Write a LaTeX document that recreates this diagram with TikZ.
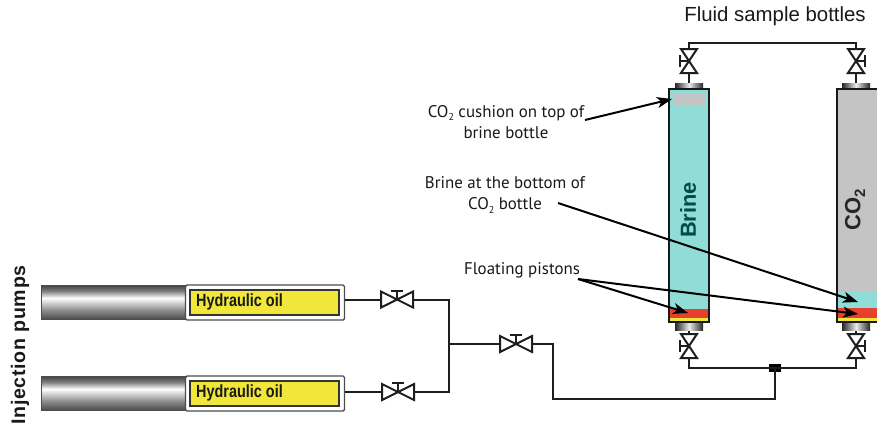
\documentclass[tikz,border=0pt]{standalone}
\usepackage{fontspec}
\setmainfont{Liberation Sans}
\newfontfamily\labelf{PT Sans}
\newfontfamily\narrowf[FakeStretch=0.82]{Liberation Sans}
\newfontfamily\spacedf[LetterSpace=3.5]{Liberation Sans}
\usetikzlibrary{arrows.meta}
\definecolor{brinec}{HTML}{8FDDD6}
\definecolor{gasc}{HTML}{C4C4C4}
\definecolor{pistonc}{HTML}{E8402F}
\definecolor{oilc}{HTML}{F0E73A}
\definecolor{pipec}{HTML}{1E1E1E}
\pgfdeclareverticalshading{cylshade}{100bp}{
 color(0bp)=(black!70); color(25bp)=(black!70); color(38bp)=(black!45); color(56bp)=(white);
 color(66bp)=(black!50); color(75bp)=(black!75); color(100bp)=(black!75)}
\newcommand{\subtwo}[1]{\raisebox{-0.22em}{\fontsize{#1}{#1}\selectfont 2}}
\tikzset{
  x=1pt,y=-1pt,
  pipe/.style={draw=pipec,line width=2pt,line join=miter},
  valveh/.style={minimum width=32pt,minimum height=16pt,inner sep=0pt,outer sep=0pt},
  valvev/.style={minimum width=16pt,minimum height=24pt,inner sep=0pt,outer sep=0pt},
  tri/.style={draw=pipec,line width=2pt,fill=white,line join=miter},
  call/.style={-{Stealth[length=15pt,width=11pt,inset=4pt]},line width=2pt,draw=black,shorten >=0pt},
  lab/.style={font=\labelf\fontsize{16.9}{21.5}\selectfont,align=center,text=black!90,inner sep=0pt},
  oil/.style={font=\narrowf\bfseries\fontsize{17.6}{18}\selectfont,text=black!90,inner sep=0pt,anchor=west},
  headtxt/.style={font=\fontsize{20.4}{22}\selectfont,text=black!90,inner sep=0pt},
  capshade/.style={left color=black!85,right color=black!85,middle color=black!8},
  wall/.style={draw=black!90,line width=2.4pt},
}
\begin{document}
\begin{tikzpicture}
\useasboundingbox (0,0) rectangle (877,429);
% named points
\node[valveh] (vA) at (397,299.5) {};
\node[valveh] (vB) at (398,392) {};
\node[valveh] (vC) at (516,344) {};
\node[valvev] (vD) at (689,61) {};
\node[valvev] (vE) at (856,61) {};
\node[valvev] (vF) at (689,346) {};
\node[valvev] (vG) at (856,346) {};
\coordinate (jL) at (449,344);
\coordinate (jT) at (449,299.5);
\coordinate (jB) at (449,392);
\node[fill=black,minimum width=12pt,minimum height=8pt,inner sep=0pt] (jR) at (775,368) {};
% pump bodies
\foreach \yy in {285,376}{
  \path[shading=cylshade,draw=black!70,line width=.6pt] (41,\yy) rectangle (186,\yy+34);
}
\node[draw=black!70,fill=white,line width=1.4pt,rounded corners=1.5pt,minimum width=159pt,minimum height=35pt,inner sep=0pt] (pA) at (265,302.5) {};
\node[draw=black!70,fill=white,line width=1.4pt,rounded corners=1.5pt,minimum width=159pt,minimum height=35pt,inner sep=0pt] (pB) at (265,393.5) {};
\node[draw=black!80,fill=oilc,line width=1.8pt,minimum width=149pt,minimum height=25pt,inner sep=0pt] (oA) at (264.5,302.5) {};
\node[draw=black!80,fill=oilc,line width=1.8pt,minimum width=149pt,minimum height=25pt,inner sep=0pt] (oB) at (264.5,393.5) {};
\node[oil] at (196,302) {Hydraulic oil};
\node[oil] at (196,393) {Hydraulic oil};
% pipework
\draw[pipe] (pA.east |- vA.west) -- (vA.west);
\draw[pipe] (pB.east |- vB.west) -- (vB.west);
\draw[pipe] (vA.east) -- (jT) -- (jB) -- (vB.east);
\draw[pipe] (jL) -- (vC.west);
\draw[pipe] (vC.east) -| (553,399) -| (jR.center);
\draw[pipe] (vF.south) |- (jR.center) -| (vG.south);
\draw[pipe] (vD.north) |- (689,43) -| (vE.north);
% bottles
\draw[pipe] (vD.south) -- (689,83);
\draw[pipe] (vE.south) -- (856,83);
\draw[pipe] (vF.north) -- (689,330);
\draw[pipe] (vG.north) -- (856,330);
\shade[capshade] (675,83) rectangle (703,89);
\shade[capshade] (842,83) rectangle (870,89);
\shade[capshade] (675,322) rectangle (703,330);
\shade[capshade] (842,322) rectangle (870,330);
\fill[brinec] (669,89) rectangle (709,322);
\fill[gasc] (673,93) rectangle (705,106);
\fill[pistonc] (669,309) rectangle (709,318);
\fill[oilc] (669,318) rectangle (709,322);
\draw[wall] (669,89) rectangle (709,322);
\fill[gasc] (836,89) rectangle (880,292);
\fill[brinec] (836,292) rectangle (880,308);
\fill[pistonc] (836,308) rectangle (880,318);
\fill[oilc] (836,318) rectangle (880,322);
\draw[wall] (880,89) -- (837,89) -- (837,322) -- (880,322);
% valves
\foreach \v in {vA,vB,vC}{
  \draw[tri] (\v.north west) -- (\v.center) -- (\v.south west) -- cycle;
  \draw[tri] (\v.north east) -- (\v.center) -- (\v.south east) -- cycle;
  \draw[pipec,line width=2pt] (\v.center) -- ++(0,-9) ++(-6,0) -- ++(12,0);
}
\foreach \v/\d in {vD/-1,vE/1,vF/-1,vG/1}{
  \draw[tri] (\v.north west) -- (\v.center) -- (\v.north east) -- cycle;
  \draw[tri] (\v.south west) -- (\v.center) -- (\v.south east) -- cycle;
  \draw[pipec,line width=2pt] (\v.center) -- ++(\d*9,0) ++(0,-6) -- ++(0,12);
}
% text
\node[headtxt] (tB) at (775,16) {Fluid sample bottles};
\node[headtxt,font=\spacedf\bfseries\fontsize{19.6}{20}\selectfont,rotate=90] (tI) at (20,345) {Injection pumps};
\node[rotate=90,font=\bfseries\fontsize{21.8}{22}\selectfont,text=teal!60!black,inner sep=0pt] (tBr) at (688,210) {Brine};
\node[rotate=90,font=\bfseries\fontsize{22}{22}\selectfont,text=black!85,inner sep=0pt] (tCO) at (855,210) {CO\subtwo{15}};
\node[lab] (l1) at (506,122) {CO\subtwo{10} cushion on top of\\brine bottle};
\node[lab] (l2) at (505,195) {Brine at the bottom of\\CO\subtwo{10} bottle};
\node[lab] (l3) at (522,270) {Floating pistons};
% callouts
\coordinate (a1) at (585,120);
\coordinate (b1) at (672,99);
\coordinate (a2) at (558,203);
\coordinate (b2) at (858,302);
\coordinate (a3) at (578,279);
\coordinate (b3) at (688,313);
\coordinate (b4) at (858,314);
\draw[call] (a1) -- (b1);
\draw[call] (a2) -- (b2);
\draw[call] (a3) -- (b3);
\draw[call] (a3) -- (b4);
\end{tikzpicture}
\end{document}
